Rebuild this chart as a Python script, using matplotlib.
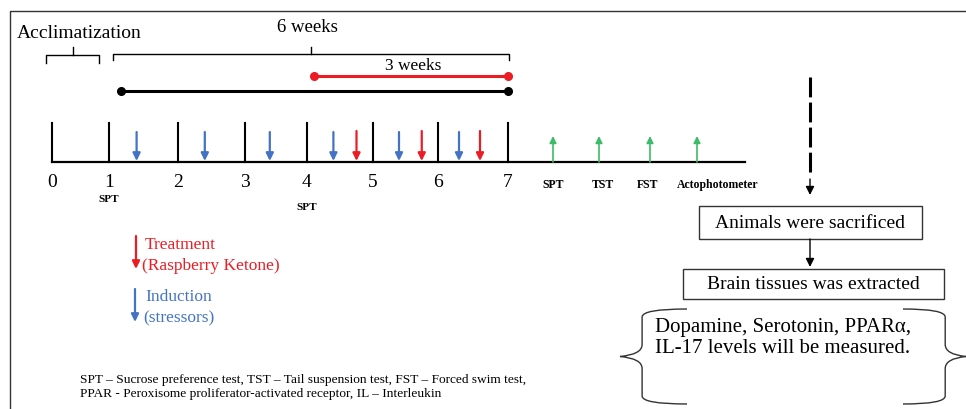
import numpy as np
import matplotlib
matplotlib.use("Agg")
import matplotlib.pyplot as plt
from matplotlib.patches import Rectangle
from matplotlib.path import Path
from matplotlib.patches import PathPatch

# timeline data (weeks and where each week sits on the drawing)
weeks = [0, 1, 2, 3, 4, 5, 6, 7]
week_x = [52, 109, 178, 245, 307, 373, 438, 508]
spt_weeks = [1, 4]
induction_weeks = [1.4, 2.4, 3.4, 4.4, 5.4, 6.3]
treatment_weeks = [4.75, 5.75, 6.6]
tests = ["SPT", "TST", "FST", "Actophotometer"]
test_x = [553, 599, 650, 697]
test_label_x = [553, 603, 648, 718]
steps = ["Animals were sacrificed", "Brain tissues was extracted"]
measured = "Dopamine, Serotonin, PPARα,\nIL-17 levels will be measured."
footnote = ("SPT \u2013 Sucrose preference test, TST \u2013 Tail suspension test, FST \u2013 Forced swim test,\n"
            "PPAR - Peroxisome proliferator-activated receptor, IL \u2013 Interleukin")

RED = "#ec1c24"
BLUE = "#4472c4"
GREEN = "#3dbb6a"

plt.rcParams['font.family'] = ['Liberation Serif', 'DejaVu Serif']

fig = plt.figure(figsize=(9.66, 4.10), dpi=100)
ax = fig.add_axes([0, 0, 1, 1])
ax.set_xlim(0, 966)
ax.set_ylim(410, 0)
ax.axis('off')

def wx(w):
    return np.interp(w, weeks, week_x)

def arrow(x0, y0, x1, y1, color, lw=1.6, hl=0.45, hw=0.22):
    ax.annotate('', xy=(x1, y1), xytext=(x0, y0),
                arrowprops=dict(arrowstyle=f'-|>,head_length={hl},head_width={hw}',
                                color=color, lw=lw, shrinkA=0, shrinkB=0))

# outer frame
ax.add_patch(Rectangle((10, 12), 970, 410, fill=False, lw=1.0, ec='#333333'))

# baseline + week ticks
base_y = 163
ax.plot([week_x[0], 745], [base_y, base_y], color='black', lw=1.6)
for w in weeks:
    ax.plot([wx(w), wx(w)], [124, base_y], color='black', lw=1.5)
    ax.text(wx(w), 183, str(w), ha='center', va='center', fontsize=14)
for w, y in zip(spt_weeks, [200, 208]):
    ax.text(wx(w), y, "SPT", ha='center', va='center', fontsize=8, fontweight='bold')

for w in induction_weeks:
    arrow(wx(w), 133, wx(w), 162, BLUE)
for w in treatment_weeks:
    arrow(wx(w), 132, wx(w), 162, RED)
for t, x, lx in zip(tests, test_x, test_label_x):
    arrow(x, base_y, x, 137, GREEN, lw=1.2, hl=0.4, hw=0.2)
    ax.text(lx, 185, t, ha='center', va='center', fontsize=8.5, fontweight='bold')

# brackets
def bracket(x0, x1, y, yleg, ymid):
    ax.plot([x0, x0, x1, x1], [yleg, y, y, yleg], color='black', lw=1.0)
    xm = (x0 + x1) / 2
    ax.plot([xm, xm], [y, ymid], color='black', lw=1.0)

bracket(46, 99, 56, 64, 48)
ax.text(17, 33, "Acclimatization", ha='left', va='center', fontsize=14)
bracket(113, 509, 55, 61, 48)
ax.text(307, 27, "6 weeks", ha='center', va='center', fontsize=13.5)

# treatment / induction periods
ax.plot([wx(4.1), wx(7)], [77, 77], color=RED, lw=2.2, marker='o', ms=5.5)
ax.text(413, 66, "3 weeks", ha='center', va='center', fontsize=12.5)
ax.plot([wx(1.18), wx(7)], [92, 92], color='black', lw=2.2, marker='o', ms=5.5)

# legend
arrow(136, 237, 136, 270, RED)
ax.text(145, 245, "Treatment", color=RED, va='center', fontsize=12.5)
ax.text(142, 266, "(Raspberry Ketone)", color=RED, va='center', fontsize=12.5)
arrow(135, 290, 135, 323, BLUE)
ax.text(145, 297, "Induction", color=BLUE, va='center', fontsize=12.5)
ax.text(143, 318, "(stressors)", color=BLUE, va='center', fontsize=12.5)

ax.text(80, 387, footnote, va='center', ha='left', fontsize=9.6, linespacing=1.2)

# right flow
ax.plot([810, 810], [78, 176], color='black', lw=2.2, dashes=(6.5, 1.7))
arrow(810, 180, 810, 196, 'black', lw=1.0, hl=0.5, hw=0.25)
ax.add_patch(Rectangle((699, 207), 223, 33, fill=False, lw=1.0, ec='#333333'))
ax.text(810, 224, steps[0], ha='center', va='center', fontsize=14)
arrow(810, 240, 810, 268, 'black', lw=1.0, hl=0.5, hw=0.25)
ax.add_patch(Rectangle((683, 270), 261, 30, fill=False, lw=1.0, ec='#333333'))
ax.text(813, 285, steps[1], ha='center', va='center', fontsize=14)

def brace(xtip, xend, ytop, ybot):
    ymid = (ytop + ybot) / 2
    xi = xtip + (xend - xtip) * 0.33
    verts = [(xend, ytop), (xi, ytop), (xi, ytop + 8), (xi, ymid - 12),
             (xi, ymid - 2), (xtip, ymid), (xtip, ymid),
             (xi, ymid + 2), (xi, ymid + 12), (xi, ybot - 8),
             (xi, ybot), (xend, ybot)]
    codes = [Path.MOVETO, Path.CURVE3, Path.CURVE3, Path.LINETO,
             Path.CURVE3, Path.CURVE3, Path.MOVETO,
             Path.CURVE3, Path.CURVE3, Path.LINETO,
             Path.CURVE3, Path.CURVE3]
    ax.add_patch(PathPatch(Path(verts, codes), fill=False, lw=1.0, ec='#333333'))

brace(620, 687, 310, 405)
brace(966, 903, 310, 405)
ax.text(783, 338, measured, ha='center', va='center', fontsize=15,
        linespacing=1.2, multialignment='center')

fig.savefig("out.png", dpi=100)
